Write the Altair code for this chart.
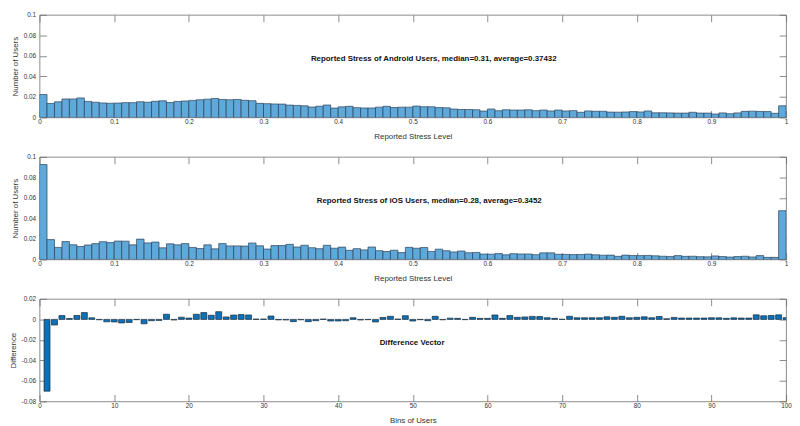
import altair as alt
import pandas as pd

# ---------------- data ----------------
android = [
    0.0223, 0.0136, 0.0152, 0.0180, 0.0180, 0.0190, 0.0156, 0.0148, 0.0141, 0.0138,
    0.0140, 0.0144, 0.0144, 0.0153, 0.0148, 0.0157, 0.0162, 0.0145, 0.0156, 0.0160,
    0.0166, 0.0172, 0.0178, 0.0185, 0.0175, 0.0172, 0.0175, 0.0167, 0.0163, 0.0137,
    0.0134, 0.0131, 0.0130, 0.0120, 0.0117, 0.0113, 0.0101, 0.0109, 0.0121, 0.0091,
    0.0103, 0.0108, 0.0095, 0.0092, 0.0092, 0.0100, 0.0108, 0.0096, 0.0100, 0.0100,
    0.0111, 0.0104, 0.0104, 0.0096, 0.0094, 0.0082, 0.0077, 0.0077, 0.0075, 0.0062,
    0.0082, 0.0065, 0.0075, 0.0072, 0.0072, 0.0074, 0.0066, 0.0072, 0.0063, 0.0072,
    0.0063, 0.0066, 0.0050, 0.0063, 0.0060, 0.0060, 0.0052, 0.0051, 0.0053, 0.0057,
    0.0053, 0.0063, 0.0045, 0.0045, 0.0044, 0.0042, 0.0042, 0.0050, 0.0042, 0.0042,
    0.0033, 0.0044, 0.0036, 0.0044, 0.0059, 0.0061, 0.0058, 0.0057, 0.0040, 0.0113,
]

ios = [
    0.0925, 0.0193, 0.0117, 0.0174, 0.0143, 0.0126, 0.0141, 0.0154, 0.0173, 0.0164,
    0.0179, 0.0178, 0.0142, 0.0198, 0.0161, 0.0169, 0.0113, 0.0152, 0.0142, 0.0154,
    0.0117, 0.0106, 0.0142, 0.0103, 0.0154, 0.0132, 0.0132, 0.0130, 0.0160, 0.0133,
    0.0101, 0.0135, 0.0135, 0.0147, 0.0121, 0.0138, 0.0114, 0.0105, 0.0138, 0.0109,
    0.0120, 0.0089, 0.0105, 0.0093, 0.0121, 0.0085, 0.0077, 0.0090, 0.0067, 0.0118,
    0.0109, 0.0116, 0.0078, 0.0100, 0.0085, 0.0073, 0.0082, 0.0065, 0.0068, 0.0052,
    0.0051, 0.0057, 0.0045, 0.0056, 0.0053, 0.0053, 0.0046, 0.0064, 0.0064, 0.0050,
    0.0049, 0.0047, 0.0048, 0.0052, 0.0045, 0.0041, 0.0042, 0.0030, 0.0042, 0.0038,
    0.0037, 0.0039, 0.0035, 0.0031, 0.0029, 0.0037, 0.0030, 0.0031, 0.0027, 0.0025,
    0.0034, 0.0028, 0.0023, 0.0028, 0.0031, 0.0024, 0.0037, 0.0020, 0.0020, 0.0475,
]

difference = [
    -0.0700, -0.0055, 0.0037, 0.0008, 0.0038, 0.0066, 0.0015, -0.0004, -0.0024, -0.0025,
    -0.0035, -0.0030, -0.0003, -0.0043, -0.0013, -0.0010, 0.0050, -0.0006, 0.0021, 0.0013,
    0.0050, 0.0066, 0.0040, 0.0075, 0.0024, 0.0042, 0.0047, 0.0043, 0.0003, 0.0003,
    0.0033, -0.0005, -0.0006, -0.0022, -0.0004, -0.0022, -0.0013, 0.0003, -0.0016, -0.0016,
    -0.0013, 0.0016, -0.0006, -0.0003, -0.0025, 0.0019, 0.0030, 0.0003, 0.0036, -0.0016,
    -0.0003, -0.0013, 0.0030, -0.0004, 0.0012, 0.0010, -0.0003, 0.0020, 0.0010, 0.0010,
    0.0043, 0.0010, 0.0037, 0.0020, 0.0024, 0.0029, 0.0027, 0.0016, 0.0010, 0.0001,
    0.0030, 0.0016, 0.0016, 0.0016, 0.0016, 0.0025, 0.0020, 0.0030, 0.0016, 0.0020,
    0.0025, 0.0016, 0.0028, 0.0006, 0.0019, 0.0013, 0.0013, 0.0013, 0.0013, 0.0016,
    0.0015, 0.0010, 0.0015, 0.0013, 0.0013, 0.0044, 0.0035, 0.0038, 0.0044, 0.0017,
]

stress_ticks = [0, 0.1, 0.2, 0.3, 0.4, 0.5, 0.6, 0.7, 0.8, 0.9, 1]
share_ticks = [0, 0.02, 0.04, 0.06, 0.08, 0.1]
bin_ticks = [0, 10, 20, 30, 40, 50, 60, 70, 80, 90, 100]
diff_ticks = [-0.08, -0.06, -0.04, -0.02, 0, 0.02]

panel_titles = [
    "Reported Stress of Android Users, median=0.31, average=0.37432",
    "Reported Stress of iOS Users, median=0.28, average=0.3452",
    "Difference Vector",
]

# ---------------- style ----------------
FONT = "Liberation Sans"
W, H = 757, 104
TICK = 7
LINE = "#6e6e6e"
TXT = "#333333"
HIST_FILL = "#5FA8DA"
HIST_EDGE = "#2b4257"
DIFF_FILL = "#0B72BA"
DIFF_EDGE = "#1b2a38"
LABEL_EXPR = "'' + datum.value"


def ax(orient, values, title=None, labels=True, label_pad=1, title_pad=8):
    kw = dict(orient=orient, values=values, offset=-TICK, tickSize=TICK,
              tickWidth=0.8, tickColor=LINE, domain=False, grid=False,
              labels=labels, title=title)
    if labels:
        kw.update(labelExpr=LABEL_EXPR, labelFont=FONT, labelFontSize=6.5,
                  labelColor=TXT, labelPadding=label_pad, labelFlush=False,
                  labelOverlap=False)
    if title:
        kw.update(titleFont=FONT, titleFontSize=8, titleFontWeight="normal",
                  titleColor=TXT, titlePadding=title_pad)
    return alt.Axis(**kw)


def panel(df, lo_expr, hi_expr, x_dom, x_ticks, x_title, y_dom, y_ticks,
          y_title, fill, edge, text, tx, ty):
    base = alt.Chart(df).transform_calculate(lo=lo_expr, hi=hi_expr)
    bars = base.mark_bar(fill=fill, stroke=edge, strokeWidth=0.7, clip=True).encode(
        x=alt.X("lo:Q", scale=alt.Scale(domain=x_dom, nice=False, zero=False),
                axis=ax("bottom", x_ticks, x_title)),
        x2="hi:Q",
        y=alt.Y("v:Q", scale=alt.Scale(domain=y_dom, nice=False),
                axis=ax("left", y_ticks, y_title, label_pad=4, title_pad=4)),
        y2=alt.datum(0),
    )
    frame = base.mark_bar(opacity=0, clip=True).encode(
        x=alt.X("lo:Q", axis=ax("top", x_ticks, labels=False)),
        x2="hi:Q",
        y=alt.Y("v:Q", axis=ax("right", y_ticks, labels=False)),
        y2=alt.datum(0),
    )
    label = alt.Chart(pd.DataFrame({"t": [text]})).mark_text(
        font=FONT, fontSize=8, fontWeight="bold", color="#111111",
        align="center", baseline="middle",
    ).encode(x=alt.value(tx), y=alt.value(ty), text="t:N")
    return (
        alt.layer(bars, frame, label)
        .resolve_axis(x="independent", y="independent")
        .properties(width=W, height=H)
    )


df_a = pd.DataFrame({"bin": list(range(len(android))), "v": android})
df_i = pd.DataFrame({"bin": list(range(len(ios))), "v": ios})
df_d = pd.DataFrame({"bin": list(range(1, len(difference) + 1)), "v": difference})

p1 = panel(df_a, "datum.bin / 100", "(datum.bin + 1) / 100", [0, 1], stress_ticks,
           "Reported Stress Level", [0, 0.1], share_ticks, "Number of Users",
           HIST_FILL, HIST_EDGE, panel_titles[0], W * 0.528, H * 0.43)
p2 = panel(df_i, "datum.bin / 100", "(datum.bin + 1) / 100", [0, 1], stress_ticks,
           "Reported Stress Level", [0, 0.1], share_ticks, "Number of Users",
           HIST_FILL, HIST_EDGE, panel_titles[1], W * 0.522, H * 0.435)
p3 = panel(df_d, "datum.bin - 0.4", "datum.bin + 0.4", [0, 100], bin_ticks,
           "Bins of Users", [-0.08, 0.02], diff_ticks, "Difference",
           DIFF_FILL, DIFF_EDGE, panel_titles[2], W * 0.499, H * 0.43)

chart = (
    alt.vconcat(p1, p2, p3, spacing=12)
    .properties(padding=0, background="white")
    .configure_view(stroke=LINE, strokeWidth=0.8)
)

chart.save("out.html", embed_options={"renderer": "svg", "actions": False})
